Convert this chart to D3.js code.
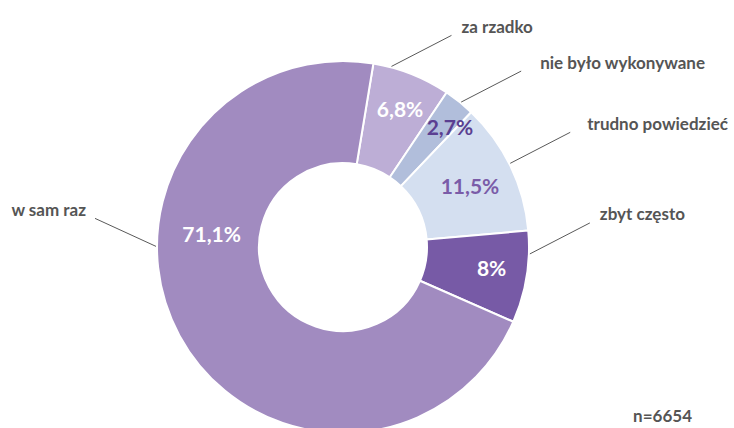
<!DOCTYPE html>
<html>
<head>
<meta charset="utf-8">
<script src="https://cdn.jsdelivr.net/npm/d3@7"></script>
<style>
  html, body { margin: 0; padding: 0; background: #fff; }
  svg { display: block; font-family: Lato, "Open Sans", sans-serif; }
</style>
</head>
<body>
<svg id="chart" width="734" height="428"></svg>
<script>
// answers, in the order the slices run clockwise
const categories = ["za rzadko", "nie było wykonywane", "trudno powiedzieć", "zbyt często", "w sam raz"];
const values = [6.8, 2.7, 11.5, 8, 71.1];
const valueLabels = ["6,8%", "2,7%", "11,5%", "8%", "71,1%"];
const sampleNote = "n=6654";

const colors = ["#bdaed6", "#b1bedb", "#d4dff0", "#775aa6", "#a18bc0"];
const labelColors = ["#ffffff", "#5b3f91", "#7a5ca8", "#ffffff", "#ffffff"];

const width = 734, height = 428;
const cx = 343, cy = 247;
const outerR = 186, innerR = 84;
const startAngle = 9.4 * Math.PI / 180;

// where along each slice the value label / leader line sit (0 = start, 1 = end)
const labelAt = [0.53, 0.8, 0.5, 0.45, 0.634];
const labelR = [150, 161, 141, 150, 132];
const leaderAt = [0.23, 0.55, 0.48, 0.25, 0.612];
const nameGap = [10, 19, 17, 10, 9];

const svg = d3.select("#chart");
const g = svg.append("g").attr("transform", `translate(${cx},${cy})`);

const pie = d3.pie()
  .sort(null)
  .value((d) => d.value)
  .startAngle(startAngle)
  .endAngle(startAngle + 2 * Math.PI);

const data = categories.map((c, i) => ({
  name: c, value: values[i], label: valueLabels[i], i
}));
const arcs = pie(data);

const arc = d3.arc().innerRadius(innerR).outerRadius(outerR);

g.selectAll("path.slice")
  .data(arcs)
  .join("path")
  .attr("class", "slice")
  .attr("d", arc)
  .attr("fill", (d) => colors[d.data.i])
  .attr("stroke", "#fff")
  .attr("stroke-width", 2)
  .attr("stroke-linejoin", "round");

const pointAt = (d, frac, r) => {
  const a = d.startAngle + (d.endAngle - d.startAngle) * frac;
  return [Math.sin(a) * r, -Math.cos(a) * r];
};

// value labels inside the ring
g.selectAll("text.value")
  .data(arcs)
  .join("text")
  .attr("class", "value")
  .attr("x", (d) => pointAt(d, labelAt[d.data.i], labelR[d.data.i])[0])
  .attr("y", (d) => pointAt(d, labelAt[d.data.i], labelR[d.data.i])[1])
  .attr("text-anchor", "middle")
  .attr("dominant-baseline", "central")
  .attr("font-size", "21px")
  .attr("font-weight", 700)
  .attr("fill", (d) => labelColors[d.data.i])
  .text((d) => d.data.label);

// leader lines and category names
const leaders = g.selectAll("g.leader")
  .data(arcs)
  .join("g")
  .attr("class", "leader");

leaders.each(function (d) {
  const [x0, y0] = pointAt(d, leaderAt[d.data.i], outerR + 1);
  const right = x0 >= 0;
  const x1 = x0 + (right ? 60 : -61);
  const y1 = y0 + (right ? -31 : -28);
  const gap = nameGap[d.data.i];
  const sel = d3.select(this);
  sel.append("line")
    .attr("x1", x0).attr("y1", y0)
    .attr("x2", x1).attr("y2", y1)
    .attr("stroke", "#595959")
    .attr("stroke-width", 1);
  sel.append("text")
    .attr("x", x1 + (right ? gap : -gap))
    .attr("y", y1 - 9)
    .attr("text-anchor", right ? "start" : "end")
    .attr("dominant-baseline", "central")
    .attr("font-size", "17px")
    .attr("font-weight", 700)
    .attr("fill", "#555555")
    .text(d.data.name);
});

svg.append("text")
  .attr("x", 692)
  .attr("y", 415)
  .attr("text-anchor", "end")
  .attr("dominant-baseline", "central")
  .attr("font-size", "17px")
  .attr("font-weight", 700)
  .attr("fill", "#555555")
  .text(sampleNote);
</script>
</body>
</html>
